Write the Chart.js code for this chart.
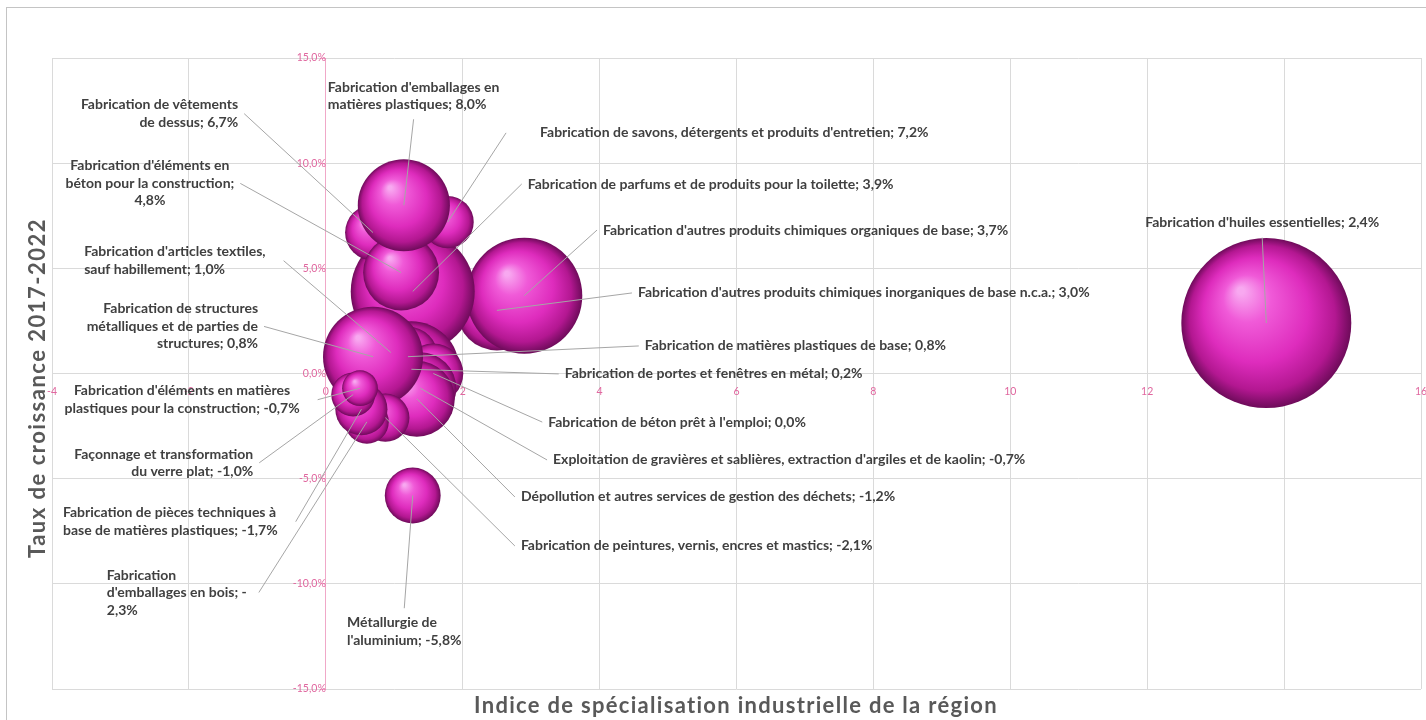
<!DOCTYPE html>
<html>
<head>
<meta charset="utf-8">
<script src="https://cdn.jsdelivr.net/npm/chart.js@4.4.1/dist/chart.umd.min.js"></script>
<style>
html, body { margin: 0; padding: 0; background: #fff; }
</style>
</head>
<body>
<canvas id="myChart" width="1426" height="720"></canvas>
<script>
// Secteurs (ordre = ordre de dessin, du fond vers l'avant)
var categories = [
    "Fabrication d'huiles essentielles",
    "Fabrication d'autres produits chimiques inorganiques de base n.c.a.",
    "Fabrication d'autres produits chimiques organiques de base",
    "Fabrication de parfums et de produits pour la toilette",
    "Fabrication d'articles textiles,\nsauf habillement",
    "Fabrication de vêtements\nde dessus",
    "Fabrication de savons, détergents et produits d'entretien",
    "Fabrication d'éléments en\nbéton pour la construction",
    "Fabrication d'emballages en\nmatières plastiques",
    "Fabrication de portes et fenêtres en métal",
    "Fabrication de matières plastiques de base",
    "Fabrication de béton prêt à l'emploi",
    "Exploitation de gravières et sablières, extraction d'argiles et de kaolin",
    "Dépollution et autres services de gestion des déchets",
    "Fabrication de structures\nmétalliques et de parties de\nstructures",
    "Fabrication de peintures, vernis, encres et mastics",
    "Fabrication\nd'emballages en bois",
    "Fabrication de pièces techniques à\nbase de matières plastiques",
    "Façonnage et transformation\ndu verre plat",
    "Fabrication d'éléments en matières\nplastiques pour la construction",
    "Métallurgie de\nl'aluminium"
];

// Indice de spécialisation industrielle (axe X)
var specialisation = [13.74, 2.5, 2.9, 1.27, 0.95, 0.69, 1.78, 1.1, 1.14, 1.25, 1.2, 1.57, 1.38, 1.33, 0.69, 0.87, 0.6, 0.52, 0.4, 0.5, 1.27];

// Taux de croissance 2017-2022 en % (axe Y)
var croissance = [2.4, 3.0, 3.7, 3.9, 1.0, 6.7, 7.2, 4.8, 8.0, 0.2, 0.8, 0.0, -0.7, -1.2, 0.8, -2.1, -2.3, -1.7, -1.0, -0.7, -5.8];

// Taille des bulles (effectifs)
var effectifs = [3610, 800, 1680, 1920, 450, 390, 340, 720, 1060, 1150, 450, 450, 650, 720, 1250, 290, 240, 340, 240, 160, 390];

var xMin = -4, xMax = 16, xStep = 2;
var yMin = -15, yMax = 15, yStep = 5;

// Position des étiquettes (coordonnées de données), alignement, côté de la ligne de rappel
var labelPos = [
    { x: 13.68, y: 7.16, align: 'center', side: 'bottom', brk: 0 },
    { x: 4.56, y: 3.83, align: 'left', side: 'left', brk: 0 },
    { x: 4.05, y: 6.82, align: 'left', side: 'left', brk: 0 },
    { x: 2.95, y: 9.01, align: 'left', side: 'left', brk: 0 },
    { x: -3.53, y: 5.78, align: 'left', side: 'right', brk: 0, gap: 18 },
    { x: -1.28, y: 12.77, align: 'right', side: 'right', brk: 0 },
    { x: 3.13, y: 11.44, align: 'left', side: 'left', brk: 0, gap: 34 },
    { x: -2.57, y: 9.87, align: 'center', side: 'right', brk: 1 },
    { x: 0.03, y: 13.62, align: 'left', side: 'bottom', brk: 0 },
    { x: 3.49, y: -0.02, align: 'left', side: 'left', brk: 0 },
    { x: 4.66, y: 1.31, align: 'left', side: 'left', brk: 0 },
    { x: 3.25, y: -2.31, align: 'left', side: 'left', brk: 0 },
    { x: 3.32, y: -4.11, align: 'left', side: 'left', brk: 0 },
    { x: 2.85, y: -5.87, align: 'left', side: 'left', brk: 0 },
    { x: -0.99, y: 3.07, align: 'right', side: 'right', brk: 0 },
    { x: 2.85, y: -8.20, align: 'left', side: 'left', brk: 0 },
    { x: -3.2, y: -9.58, align: 'left', side: 'right', brk: 2, gap: 12 },
    { x: -3.84, y: -6.63, align: 'left', side: 'right', brk: 0, gap: 18 },
    { x: -1.06, y: -3.83, align: 'right', side: 'right', brk: 0 },
    { x: -2.1, y: -0.83, align: 'center', side: 'right', brk: 0, gap: 18 },
    { x: 0.31, y: -11.86, align: 'left', side: 'top', brk: 0 }
];

var pink = '#e0679f';
var labelFont = 'bold 14px Lato';

function fmtPct(v) {
    return v.toFixed(1).replace('.', ',') + '%';
}

function labelText(i) {
    var v = croissance[i];
    var brk = labelPos[i].brk;
    if (brk === 1) return categories[i] + ';\n' + fmtPct(v);
    if (brk === 2 && v < 0) return categories[i] + '; -\n' + fmtPct(-v);
    return categories[i] + '; ' + fmtPct(v);
}

var maxSize = Math.max.apply(null, effectifs);
var bubbleData = [];
for (var i = 0; i < categories.length; i++) {
    bubbleData.push({ x: specialisation[i], y: croissance[i], r: 85 * Math.sqrt(effectifs[i] / maxSize) });
}

function sphereFill(context) {
    var chart = context.chart;
    var raw = context.raw;
    if (!raw || !chart.scales.x || !chart.chartArea) return '#e23cc4';
    var cx = chart.scales.x.getPixelForValue(raw.x);
    var cy = chart.scales.y.getPixelForValue(raw.y);
    var r = raw.r;
    if (!isFinite(cx) || !isFinite(cy)) return '#e23cc4';
    var g = chart.ctx.createRadialGradient(cx - 0.3 * r, cy - 0.38 * r, r * 0.04, cx, cy, r);
    g.addColorStop(0, '#f8a8f0');
    g.addColorStop(0.25, '#f05ad8');
    g.addColorStop(0.6, '#de2cbd');
    g.addColorStop(0.85, '#b31791');
    g.addColorStop(1, '#6e0b5a');
    return g;
}

// pas de marge automatique pour les libellés extrêmes des axes
function noEdgePadding(scale) {
    scale.paddingLeft = 0;
    scale.paddingRight = 0;
    scale.paddingTop = 0;
    scale.paddingBottom = 0;
}

var framePlugin = {
    id: 'frame',
    beforeDraw: function(chart) {
        var ctx = chart.ctx;
        ctx.save();
        ctx.fillStyle = '#ffffff';
        ctx.fillRect(0, 0, chart.width, chart.height);
        ctx.strokeStyle = '#c4c4c4';
        ctx.lineWidth = 1;
        ctx.strokeRect(6.5, 7.5, chart.width + 10, chart.height + 10);
        ctx.restore();
    },
    afterDraw: function(chart) {
        var ctx = chart.ctx;
        ctx.save();
        ctx.fillStyle = '#595959';
        ctx.font = 'bold 22px Lato';
        ctx.letterSpacing = '1.3px';
        ctx.textAlign = 'center';
        ctx.textBaseline = 'middle';
        ctx.fillText('Indice de spécialisation industrielle de la région', 736, 706);
        ctx.letterSpacing = '1.5px';
        ctx.translate(38, 388);
        ctx.rotate(-Math.PI / 2);
        ctx.fillText('Taux de croissance 2017-2022', 0, 0);
        ctx.restore();
    }
};

var labelPlugin = {
    id: 'bubbleLabels',
    afterDatasetsDraw: function(chart) {
        var ctx = chart.ctx;
        var xs = chart.scales.x, ys = chart.scales.y;
        var lh = 17.5;
        ctx.save();
        ctx.font = labelFont;
        var items = [];
        for (var i = 0; i < categories.length; i++) {
            var p = labelPos[i];
            var lines = labelText(i).split('\n');
            var ax = xs.getPixelForValue(p.x), ay = ys.getPixelForValue(p.y);
            var w = 0;
            lines.forEach(function(l) { w = Math.max(w, ctx.measureText(l).width); });
            var left = p.align === 'left' ? ax : (p.align === 'right' ? ax - w : ax - w / 2);
            var top = ay - lh / 2;
            var bottom = ay + lh * (lines.length - 1) + lh / 2;
            var mid = (top + bottom) / 2;
            var gap = p.gap || 6;
            var sx, sy;
            if (p.side === 'left') { sx = left - gap; sy = mid; }
            else if (p.side === 'right') { sx = left + w + gap; sy = mid; }
            else if (p.side === 'bottom') { sx = left + w / 2; sy = bottom + gap; }
            else { sx = left + w / 2; sy = top - gap; }
            var bx = xs.getPixelForValue(specialisation[i]);
            var by = ys.getPixelForValue(croissance[i]);
            items.push({ lines: lines, ax: ax, ay: ay, align: p.align, sx: sx, sy: sy, bx: bx, by: by });
        }
        ctx.strokeStyle = '#a6a6a6';
        ctx.lineWidth = 1;
        items.forEach(function(it) {
            ctx.beginPath();
            ctx.moveTo(it.sx, it.sy);
            ctx.lineTo(it.bx, it.by);
            ctx.stroke();
        });
        ctx.fillStyle = '#404040';
        ctx.textBaseline = 'middle';
        items.forEach(function(it) {
            ctx.textAlign = it.align;
            it.lines.forEach(function(l, k) {
                ctx.fillText(l, it.ax, it.ay + k * lh);
            });
        });
        ctx.restore();
    }
};

var ctx = document.getElementById('myChart').getContext('2d');
var chart = new Chart(ctx, {
    type: 'bubble',
    data: {
        datasets: [{
            label: 'Secteurs',
            data: bubbleData,
            backgroundColor: sphereFill,
            borderWidth: 0,
            hoverBorderWidth: 0
        }]
    },
    options: {
        responsive: false,
        animation: false,
        events: [],
        layout: { autoPadding: false, padding: { left: 52, right: 5, top: 58, bottom: 31 } },
        plugins: {
            legend: { display: false },
            tooltip: { enabled: false }
        },
        scales: {
            x: {
                type: 'linear',
                min: xMin,
                max: xMax,
                position: { y: 0 },
                afterFit: noEdgePadding,
                grid: { color: '#dadada', lineWidth: 1, drawTicks: false },
                border: { color: '#dadada' },
                ticks: {
                    stepSize: xStep,
                    autoSkip: false,
                    maxRotation: 0,
                    padding: 12,
                    color: pink,
                    font: { family: 'Lato', size: 10.5 },
                    callback: function(v) { return v; }
                }
            },
            y: {
                type: 'linear',
                min: yMin,
                max: yMax,
                position: { x: 0 },
                afterFit: noEdgePadding,
                grid: { color: '#dadada', lineWidth: 1, tickLength: 5, tickColor: '#f0a8c8' },
                border: { color: '#f0a8c8' },
                ticks: {
                    stepSize: yStep,
                    padding: 6,
                    color: pink,
                    font: { family: 'Lato', size: 10.5 },
                    callback: function(v) { return fmtPct(v); }
                }
            }
        }
    },
    plugins: [framePlugin, labelPlugin]
});
</script>
</body>
</html>
